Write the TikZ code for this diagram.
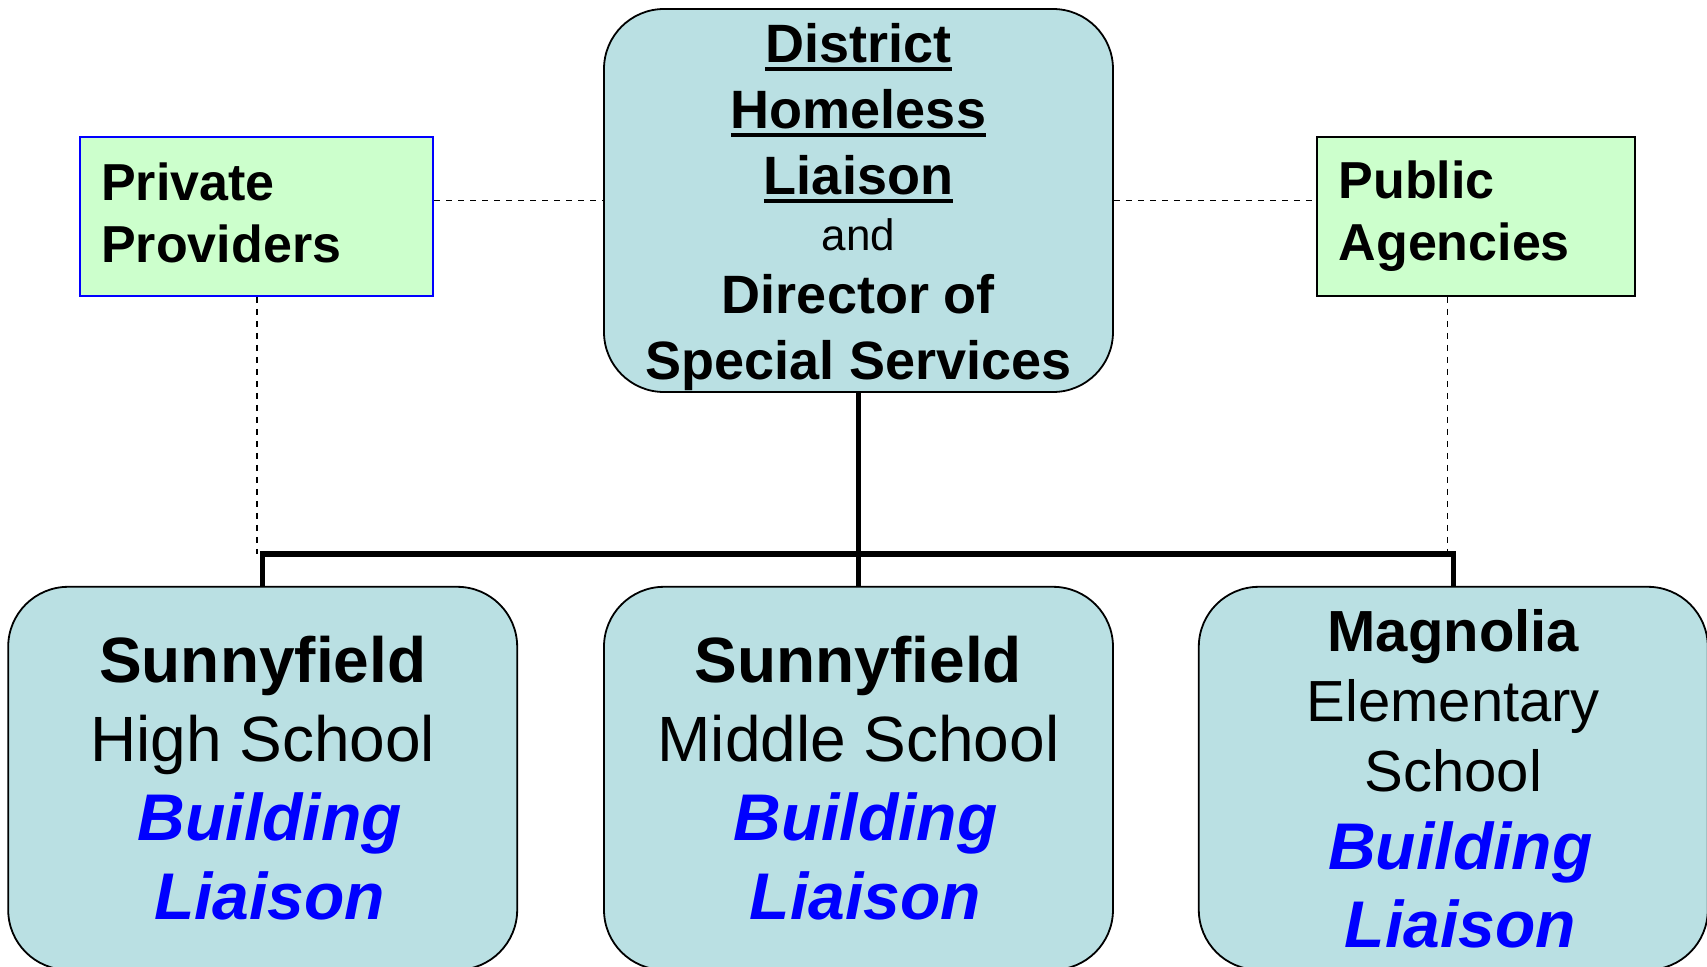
\documentclass[tikz,border=0pt]{standalone}
\usepackage{fontspec}
\setmainfont{Liberation Sans}
\usepackage{xcolor}
\definecolor{liaisonTeal}{HTML}{BAE0E3}
\definecolor{partnerGreen}{HTML}{CCFFCC}
\usepackage{tikz}
\usetikzlibrary{positioning}

\newcommand{\ulword}[1]{\setbox0=\hbox{#1}\rlap{\rule[-4.4pt]{\wd0}{2pt}}\box0}
\newcommand{\bluebold}[1]{{\color{blue}\fontsize{33}{39.5}\selectfont\bfseries\itshape #1}}

\begin{document}
\begin{tikzpicture}[unit/.style = {rectangle, draw = black, line width = 0.9pt, fill = liaisonTeal, rounded corners = 30pt, minimum width = 254.5pt, minimum height = 191.5pt, align = center},
	partner/.style = {rectangle, draw, line width = 0.8pt, fill = partnerGreen, minimum height = 79.5pt, align = left, font = \fontsize{26}{31}\selectfont\bfseries},
	trunk/.style = {line width = 2.8pt},
	link/.style = {line width = 0.75pt, dash pattern = on 3pt off 3pt}]
	\useasboundingbox (-429.25pt, 100.25pt) rectangle (424.25pt, -382.75pt);

	%% Level 0
	\node[unit, inner ysep = 0pt, font = \fontsize{27}{33}\selectfont\bfseries] (hl) at (0, 0) {\rule{0pt}{26pt}\ulword{District}\\ \ulword{Homeless}\\ \ulword{Liaison}\\[-4.75pt] {\fontsize{22}{33}\selectfont\mdseries and}\\[-1.5pt] Director of\\ Special Services};

	%% Partners
	\node[partner, draw = blue, text width = 155.5pt, inner xsep = 10.5pt, left = 84.5pt of hl, yshift = -8pt] (pp) {Private\\ Providers\rule[-4pt]{0pt}{4pt}};
	\node[partner, text width = 137pt, inner xsep = 11pt, right = 101pt of hl, yshift = -8pt] (pa) {Public\\ Agencies};

	%% Level 1
	\node[unit, font = \fontsize{32}{39.5}\selectfont, below = 96.5pt of hl] (ms) {{\bfseries Sunnyfield}\\ Middle School\\ \bluebold{\hspace{7pt}Building}\\ \bluebold{\hspace{7pt}Liaison}};
	\node[unit, font = \fontsize{32}{39.5}\selectfont, left = 42.5pt of ms] (hs) {{\bfseries Sunnyfield}\\ High School\\ \bluebold{\hspace{7pt}Building}\\ \bluebold{\hspace{7pt}Liaison}};
	\node[unit, font = \fontsize{29}{35}\selectfont, right = 42pt of ms] (es) {{\bfseries Magnolia}\\ Elementary\\ School\\[4pt] \bluebold{\hspace{7pt}Building}\\[4pt] \bluebold{\hspace{7pt}Liaison}};

	%% Lines...
	% ... solid
	\draw[trunk] (hl.south) -- (ms.north);
	\draw[trunk] (hs.north) -- ++(0, 16pt) coordinate (bus) -| (es.north);

	% ... dashed
	\draw[link] (pp.east |- hl.west) -- (hl.west);
	\draw[link] (hl.east) -- (pa.west |- hl.east);
	\coordinate (pad) at ([xshift = -14pt]pa.south);
	\draw[link] (pp.south) -- (pp.south |- bus);
	\draw[link] (pad) -- (pad |- bus);
\end{tikzpicture}
\end{document}
